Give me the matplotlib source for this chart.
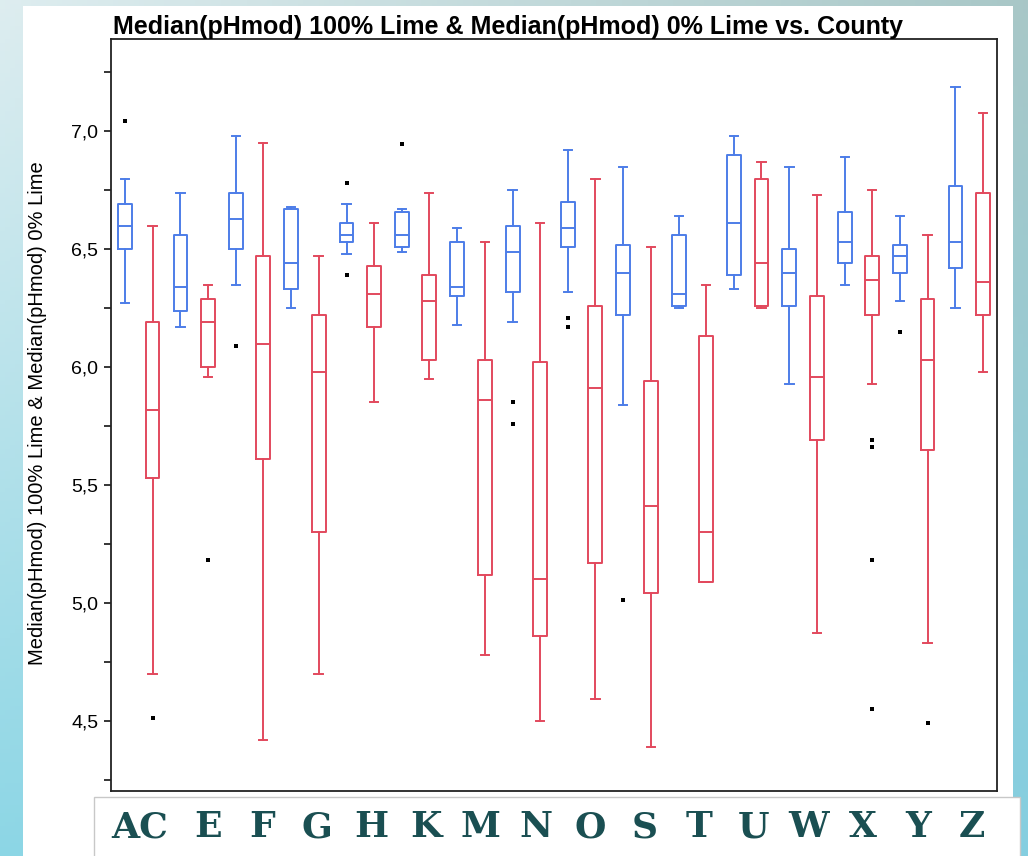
import numpy as np
import matplotlib.pyplot as plt
from matplotlib.patches import Rectangle

# County labels (shown in the box under the chart)
counties = ["AC", "E", "F", "G", "H", "K", "M", "N", "O", "S", "T", "U", "W", "X", "Y", "Z"]

# Median(pHmod) 100% Lime  (blue boxes)
lime100_low = [6.27, 6.17, 6.35, 6.25, 6.48, 6.49, 6.18, 6.19, 6.32, 5.84, 6.25, 6.33, 5.93, 6.35, 6.28, 6.25]
lime100_q1 = [6.50, 6.24, 6.50, 6.33, 6.53, 6.51, 6.30, 6.32, 6.51, 6.22, 6.26, 6.39, 6.26, 6.44, 6.40, 6.42]
lime100_med = [6.60, 6.34, 6.63, 6.44, 6.56, 6.56, 6.34, 6.49, 6.59, 6.40, 6.31, 6.61, 6.40, 6.53, 6.47, 6.53]
lime100_q3 = [6.69, 6.56, 6.74, 6.67, 6.61, 6.66, 6.53, 6.60, 6.70, 6.52, 6.56, 6.90, 6.50, 6.66, 6.52, 6.77]
lime100_high = [6.80, 6.74, 6.98, 6.68, 6.69, 6.67, 6.59, 6.75, 6.92, 6.85, 6.64, 6.98, 6.85, 6.89, 6.64, 7.19]
lime100_out = [[7.045], [], [6.09], [], [6.78, 6.39], [6.945], [], [5.85, 5.76],
               [6.21, 6.17], [5.01], [], [], [], [], [6.15], []]

# Median(pHmod) 0% Lime  (red boxes)
lime0_low = [4.70, 5.96, 4.42, 4.70, 5.85, 5.95, 4.78, 4.50, 4.59, 4.39, 5.09, 6.25, 4.87, 5.93, 4.83, 5.98]
lime0_q1 = [5.53, 6.00, 5.61, 5.30, 6.17, 6.03, 5.12, 4.86, 5.17, 5.04, 5.09, 6.26, 5.69, 6.22, 5.65, 6.22]
lime0_med = [5.82, 6.19, 6.10, 5.98, 6.31, 6.28, 5.86, 5.10, 5.91, 5.41, 5.30, 6.44, 5.96, 6.37, 6.03, 6.36]
lime0_q3 = [6.19, 6.29, 6.47, 6.22, 6.43, 6.39, 6.03, 6.02, 6.26, 5.94, 6.13, 6.80, 6.30, 6.47, 6.29, 6.74]
lime0_high = [6.60, 6.35, 6.95, 6.47, 6.61, 6.74, 6.53, 6.61, 6.80, 6.51, 6.35, 6.87, 6.73, 6.75, 6.56, 7.08]
lime0_out = [[4.51], [5.18], [], [], [], [], [], [], [], [], [], [], [],
             [5.69, 5.66, 5.18, 4.55], [4.49], []]

blue = "#4d7de8"
red = "#e2495d"


def make_stats(low, q1, med, q3, high, out):
    return [dict(whislo=a, q1=b, med=c, q3=d, whishi=e, fliers=f)
            for a, b, c, d, e, f in zip(low, q1, med, q3, high, out)]


W, H = 1028, 856
fig = plt.figure(figsize=(W / 100, H / 100), dpi=100)

# slide background: soft teal gradient, white panel, box for the county letters
bg = fig.add_axes([0, 0, 1, 1], zorder=-10)
yy, xx = np.mgrid[0:1:200j, 0:1:200j]
tl = np.array([0.87, 0.93, 0.94])
tr = np.array([0.66, 0.78, 0.78])
bl = np.array([0.55, 0.84, 0.90])
br = np.array([0.52, 0.81, 0.88])
img = (tl * ((1 - xx) * (1 - yy))[..., None] + tr * (xx * (1 - yy))[..., None]
       + bl * ((1 - xx) * yy)[..., None] + br * (xx * yy)[..., None])
bg.imshow(img, extent=[0, 1, 0, 1], aspect="auto", origin="upper")
bg.add_patch(Rectangle((23 / W, -0.01), (1013 - 23) / W, 1.01 - 6 / H, color="white", lw=0))
bg.add_patch(Rectangle((94 / W, -0.01), (1020 - 94) / W, 0.01 + (856 - 797) / H,
                       facecolor="white", edgecolor="#c8c8c8", lw=1))
bg.set_xlim(0, 1)
bg.set_ylim(0, 1)
bg.axis("off")

# main box plot area
ax = fig.add_axes([111 / W, 1 - 790.7 / H, (996.7 - 111) / W, (790.7 - 38.5) / H])
pos = np.arange(len(counties))

flier = dict(marker="s", markersize=2.6, markerfacecolor="black", markeredgewidth=0,
             linestyle="none")
for stats, color, off in [
    (make_stats(lime100_low, lime100_q1, lime100_med, lime100_q3, lime100_high, lime100_out), blue, -0.245),
    (make_stats(lime0_low, lime0_q1, lime0_med, lime0_q3, lime0_high, lime0_out), red, 0.25),
]:
    lp = dict(color=color, lw=1.4)
    ax.bxp(stats, positions=pos + off, widths=0.25, capwidths=0.15,
           boxprops=lp, whiskerprops=lp, capprops=lp, medianprops=lp,
           flierprops=flier, manage_ticks=False)

ax.set_xlim(-0.5, len(counties) - 0.5)
ax.set_ylim(4.203, 7.394)
major = np.arange(4.5, 7.01, 0.5)
ax.set_yticks(major)
ax.set_yticklabels([f"{v:.1f}".replace(".", ",") for v in major], family="Liberation Sans")
ax.set_yticks(np.arange(4.25, 7.3, 0.5), minor=True)
ax.set_xticks([])
ax.tick_params(axis="y", which="both", direction="out", length=5, width=1.1, pad=4, labelsize=14)
for sp in ax.spines.values():
    sp.set_linewidth(1.3)
    sp.set_color("#222222")

fig.text(38 / W, 1 - 413 / H, "Median(pHmod) 100% Lime & Median(pHmod) 0% Lime",
         fontsize=14.5, family="Liberation Sans", rotation=90, ha="center", va="center")

# title, left aligned to the frame
fig.text(113 / W, 1 - 34 / H, "Median(pHmod) 100% Lime & Median(pHmod) 0% Lime vs. County",
         fontsize=18, fontweight="bold", family="Liberation Sans", ha="left", va="baseline")

# county letters in the box below, laid out on a fixed character grid
char_w = 27.3
left = 112.3
start = 0
for name in counties:
    cx = left + (start + len(name) / 2) * char_w
    fig.text(cx / W, 1 - 827 / H, name, family="DejaVu Serif", fontweight="bold",
             fontsize=26, color="#1a4f52", ha="center", va="center")
    start += len(name) + 1

fig.savefig("out.png", dpi=100)
